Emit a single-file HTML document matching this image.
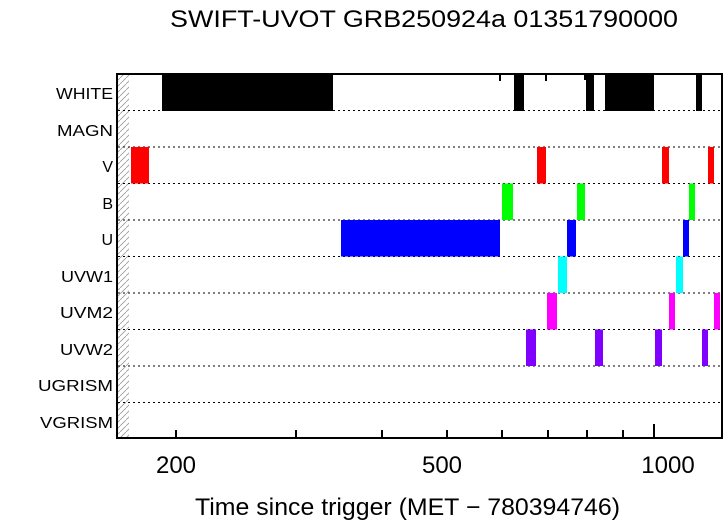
<!DOCTYPE html>
<html><head><style>body{margin:0;background:#fff}svg{display:block}</style></head><body>
<svg width="724" height="522" xmlns="http://www.w3.org/2000/svg" font-family="Liberation Sans, sans-serif">
<defs><pattern id="h" width="6" height="6" patternUnits="userSpaceOnUse"><path d="M0,6 L6,0" stroke="#999" stroke-width="0.8"/></pattern></defs>
<rect width="724" height="522" fill="#fff"/>
<text x="170" y="27" font-size="24" textLength="508" lengthAdjust="spacingAndGlyphs">SWIFT-UVOT GRB250924a 01351790000</text>
<rect x="118" y="74" width="11" height="364" fill="url(#h)"/>
<g stroke="#000" stroke-width="1" stroke-dasharray="2,3">
<line x1="118" y1="110.5" x2="721" y2="110.5"/><line x1="118" y1="147" x2="721" y2="147"/>
<line x1="118" y1="183.5" x2="721" y2="183.5"/><line x1="118" y1="220" x2="721" y2="220"/>
<line x1="118" y1="256.5" x2="721" y2="256.5"/><line x1="118" y1="293" x2="721" y2="293"/>
<line x1="118" y1="329.5" x2="721" y2="329.5"/><line x1="118" y1="366" x2="721" y2="366"/>
<line x1="118" y1="402.5" x2="721" y2="402.5"/>
</g>
<g fill="#000">
<rect x="162" y="74" width="171" height="37"/><rect x="514" y="74" width="10" height="37"/>
<rect x="586" y="74" width="8" height="37"/><rect x="584" y="74" width="2" height="6"/>
<rect x="605" y="74" width="49" height="37"/><rect x="696" y="74" width="6" height="37"/>
<rect x="499" y="74" width="2" height="7"/><rect x="545" y="74" width="2" height="7"/>
</g>
<g fill="#f00"><rect x="131" y="147" width="18" height="36.5"/><rect x="537" y="147" width="9" height="36.5"/><rect x="662" y="147" width="7" height="36.5"/><rect x="708" y="147" width="6" height="36.5"/></g>
<g fill="#0f0"><rect x="502" y="183.5" width="11" height="36.5"/><rect x="577" y="183.5" width="8" height="36.5"/><rect x="689" y="183.5" width="6" height="36.5"/></g>
<g fill="#00f"><rect x="341" y="220" width="159" height="36.5"/><rect x="567" y="220" width="9" height="36.5"/><rect x="683" y="220" width="6" height="36.5"/></g>
<g fill="#0ff"><rect x="558" y="256.5" width="9" height="36.5"/><rect x="676" y="256.5" width="7" height="36.5"/></g>
<g fill="#f0f"><rect x="547" y="293" width="10" height="36.5"/><rect x="669" y="293" width="6" height="36.5"/><rect x="714" y="293" width="6" height="36.5"/></g>
<g fill="#8000ff"><rect x="526" y="329.5" width="10" height="36.5"/><rect x="595" y="329.5" width="8" height="36.5"/><rect x="655" y="329.5" width="7" height="36.5"/><rect x="702" y="329.5" width="6" height="36.5"/></g>
<rect x="117" y="74" width="605" height="364" fill="none" stroke="#000" stroke-width="2"/>
<g stroke="#000" stroke-width="2">
<line x1="176" y1="438" x2="176" y2="430"/><line x1="296" y1="438" x2="296" y2="430"/>
<line x1="382" y1="438" x2="382" y2="430"/><line x1="447" y1="438" x2="447" y2="430"/>
<line x1="502" y1="438" x2="502" y2="430"/><line x1="548" y1="438" x2="548" y2="430"/>
<line x1="587" y1="438" x2="587" y2="430"/><line x1="623" y1="438" x2="623" y2="430"/>
<line x1="654" y1="438" x2="654" y2="424"/>
</g>
<g font-size="16" text-anchor="end">
<text x="113" y="99" textLength="57" lengthAdjust="spacingAndGlyphs">WHITE</text>
<text x="113" y="136" textLength="56" lengthAdjust="spacingAndGlyphs">MAGN</text>
<text x="113" y="172">V</text>
<text x="113" y="209">B</text><text x="113" y="245">U</text>
<text x="113" y="282" textLength="52" lengthAdjust="spacingAndGlyphs">UVW1</text>
<text x="113" y="318" textLength="53" lengthAdjust="spacingAndGlyphs">UVM2</text>
<text x="113" y="355" textLength="53" lengthAdjust="spacingAndGlyphs">UVW2</text>
<text x="113" y="391" textLength="75" lengthAdjust="spacingAndGlyphs">UGRISM</text>
<text x="113" y="428" textLength="73" lengthAdjust="spacingAndGlyphs">VGRISM</text>
</g>
<g font-size="24" text-anchor="middle">
<text x="176" y="473">200</text><text x="442" y="473">500</text><text x="668" y="473">1000</text>
</g>
<text x="195" y="515" font-size="24" textLength="425" lengthAdjust="spacingAndGlyphs">Time since trigger (MET − 780394746)</text>
</svg>
</body></html>
